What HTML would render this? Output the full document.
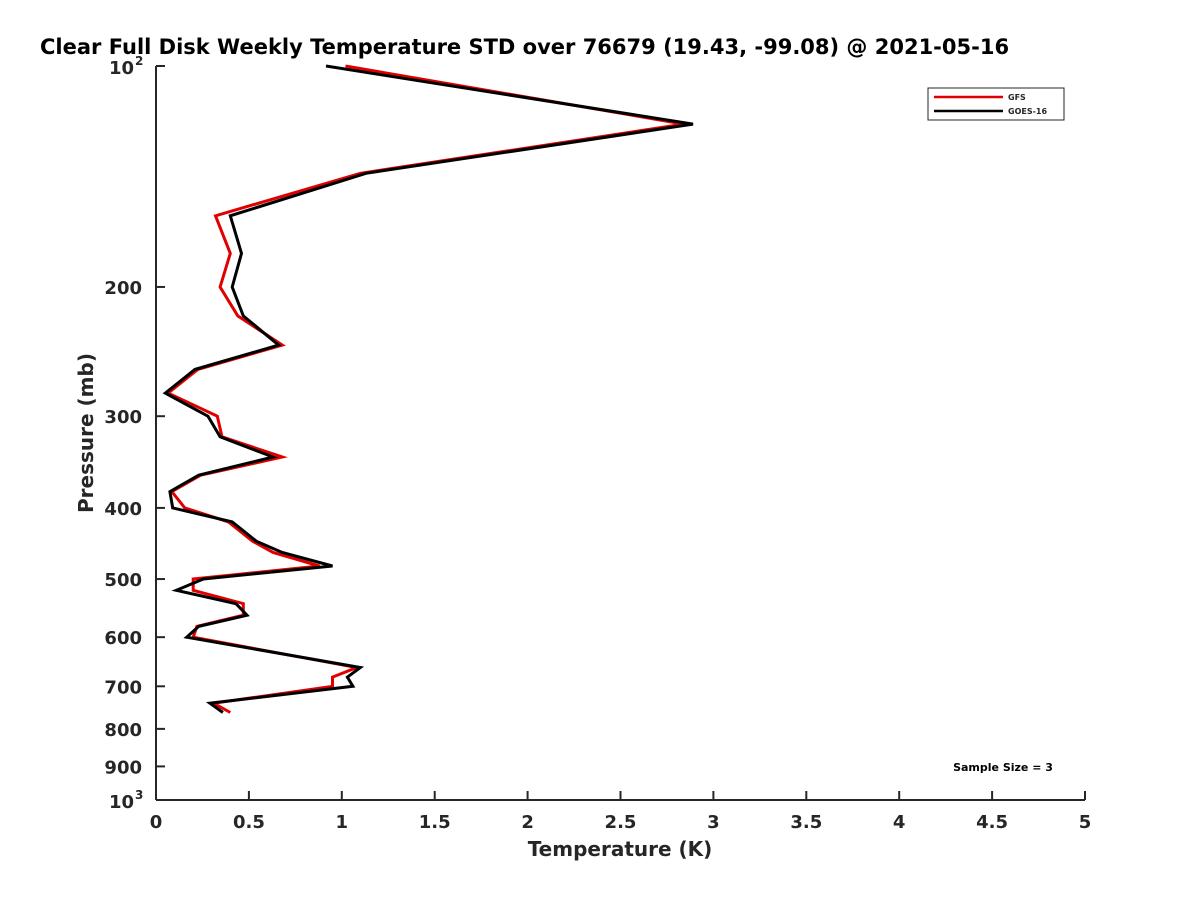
<!DOCTYPE html>
<html><head><meta charset="utf-8"><style>
body{margin:0;background:#fff}
svg text{font-family:"DejaVu Sans","Liberation Sans",sans-serif;font-weight:bold;fill:#262626}
</style></head><body>
<svg id="chart" width="1200" height="900" xmlns="http://www.w3.org/2000/svg">
<text x="40" y="54" font-size="21" style="fill:#000">Clear Full Disk Weekly Temperature STD over 76679 (19.43, -99.08) @ 2021-05-16</text>
<g id="axes"></g>
<g id="series"></g>
<g>
<rect x="928" y="88" width="136" height="32" fill="#fff" stroke="#262626" stroke-width="1"/>
<line x1="934" y1="97" x2="1003" y2="97" stroke="#e00000" stroke-width="2.5"/>
<text x="1008" y="100" font-size="8">GFS</text>
<line x1="934" y1="111" x2="1003" y2="111" stroke="#000" stroke-width="2.5"/>
<text x="1008" y="114" font-size="8">GOES-16</text>
</g>
<text x="1003" y="771" font-size="11" text-anchor="middle" style="fill:#000">Sample Size = 3</text>
<text x="620" y="856" font-size="20" text-anchor="middle">Temperature (K)</text>
<text transform="translate(93,433) rotate(-90)" font-size="20" text-anchor="middle">Pressure (mb)</text>
</svg>
<script>
const pressure=[100,120,140,160,180,200,219,240,259,279,300,320,341,361,380,400,418,444,460,480,500,518,540,560,580,600,660,680,700,738,760];
const gfs=[1.02,2.84,1.10,0.32,0.40,0.345,0.44,0.68,0.225,0.065,0.33,0.355,0.68,0.24,0.085,0.155,0.39,0.52,0.63,0.88,0.20,0.20,0.47,0.47,0.22,0.20,1.08,0.95,0.95,0.31,0.40];
const goes=[0.915,2.89,1.13,0.40,0.46,0.41,0.47,0.66,0.21,0.05,0.28,0.345,0.63,0.23,0.075,0.09,0.41,0.54,0.68,0.95,0.255,0.11,0.43,0.49,0.23,0.165,1.10,1.03,1.06,0.29,0.36];
const xTicks=[0,0.5,1,1.5,2,2.5,3,3.5,4,4.5,5];
const xTickLabels=["0","0.5","1","1.5","2","2.5","3","3.5","4","4.5","5"];
const yTicks=[100,200,300,400,500,600,700,800,900,1000];
const yTickLabels=["","200","300","400","500","600","700","800","900",""];
const X0=156,X1=1085,Y0=66,Y1=800;
const xs=v=>X0+(v/5)*(X1-X0);
const ys=p=>Y0+(Math.log10(p)-2)*(Y1-Y0);
const NS="http://www.w3.org/2000/svg";
const ax=document.getElementById('axes');
function mk(t,a,parent){const e=document.createElementNS(NS,t);for(const k in a)e.setAttribute(k,a[k]);parent.appendChild(e);return e;}
const yl=mk('line',{x1:X0,y1:Y0,x2:X0,y2:Y1,stroke:'#262626','stroke-width':2},ax);


const xl=mk('line',{x1:X0,y1:Y1,x2:X1,y2:Y1,stroke:'#262626','stroke-width':2},ax);


xTicks.forEach((v,i)=>{
 mk('line',{x1:xs(v),y1:Y1,x2:xs(v),y2:Y1-9,stroke:'#262626','stroke-width':2},ax);
 const t=mk('text',{x:xs(v),y:Y1+28,'font-size':18,'text-anchor':'middle'},ax);
 t.textContent=xTickLabels[i];
 
 
});
yTicks.forEach((p,i)=>{
 mk('line',{x1:X0,y1:ys(p),x2:X0+9,y2:ys(p),stroke:'#262626','stroke-width':2},ax);
 if(yTickLabels[i]){
  const t=mk('text',{x:X0-14,y:ys(p)+7,'font-size':18,'text-anchor':'end'},ax);
  t.textContent=yTickLabels[i];
  
  
 }
});
[[100,"2"],[1000,"3"]].forEach(([p,e])=>{
 const t=mk('text',{x:X0-22,y:ys(p)+8,'font-size':18,'text-anchor':'end'},ax);
 t.textContent="10";
 
 
 const s=mk('text',{x:X0-21,y:ys(p)-1,'font-size':12},ax);
 s.textContent=e;
 
 
});
const sg=document.getElementById('series');
function line(vals,color,name){
 const pts=vals.map((v,i)=>xs(v).toFixed(1)+','+ys(pressure[i]).toFixed(1)).join(' ');
 const pl=mk('polyline',{points:pts,fill:'none',stroke:color,'stroke-width':3,'stroke-linejoin':'miter'},sg);
 
 
}
line(gfs,'#e00000','gfs-line');
line(goes,'#000000','goes16-line');
</script>
</body></html>
